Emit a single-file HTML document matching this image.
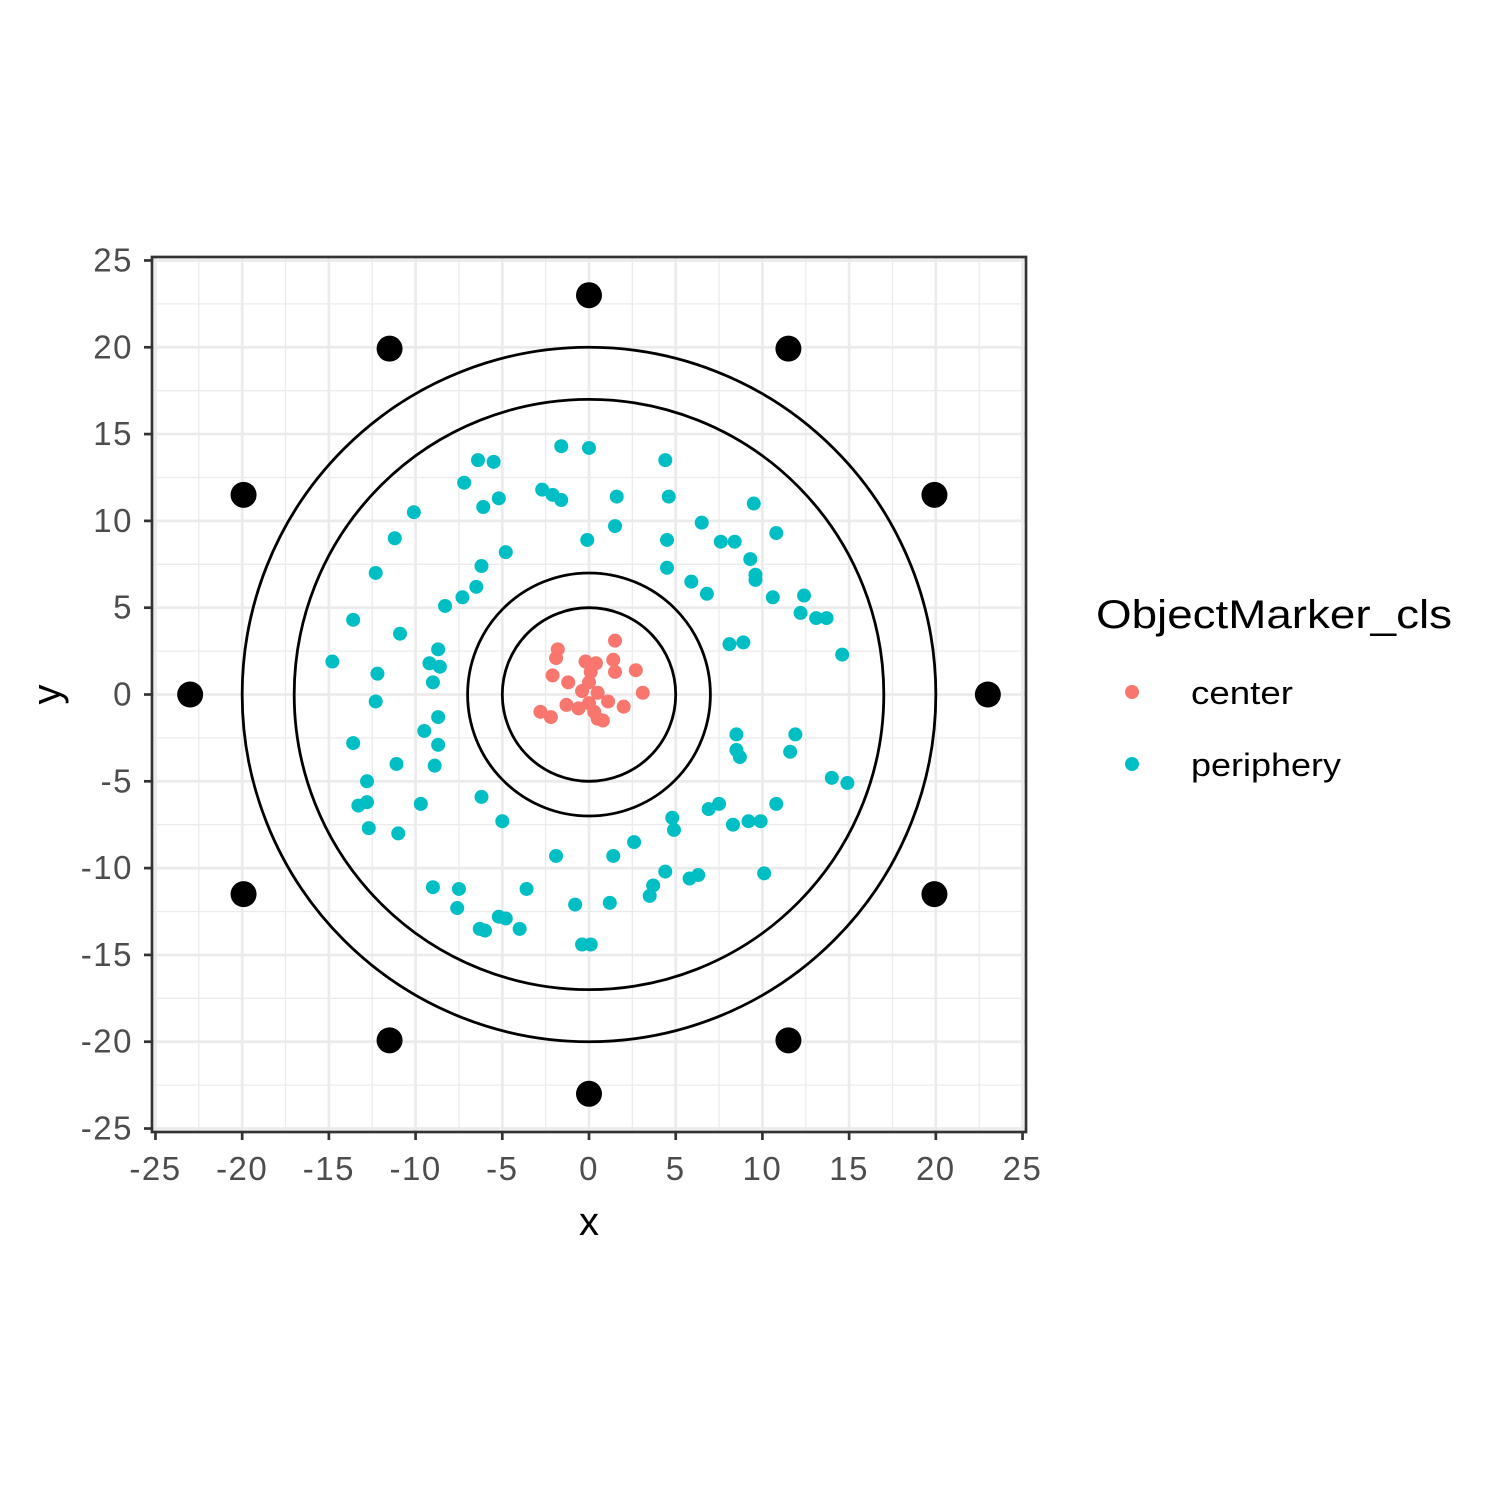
<!DOCTYPE html>
<html><head><meta charset="utf-8">
<style>
html,body{margin:0;padding:0;background:#fff;}
svg{display:block;font-family:"Liberation Sans",Arial,sans-serif;}
</style></head>
<body>
<svg id="chart" width="1500" height="1500" viewBox="0 0 1500 1500" xmlns="http://www.w3.org/2000/svg">
<rect width="1500" height="1500" fill="#fff"/>
</svg>
<script>
const xTicks=[-25,-20,-15,-10,-5,0,5,10,15,20,25];
const yTicks=[-25,-20,-15,-10,-5,0,5,10,15,20,25];
const ringRadii=[5,7,17,20];
const anchorX=[0,11.5,19.92,23,19.92,11.5,0,-11.5,-19.92,-23,-19.92,-11.5];
const anchorY=[23,19.92,11.5,0,-11.5,-19.92,-23,-19.92,-11.5,0,11.5,19.92];
const centerX=[-1.8,-1.9,1.5,-0.2,0.4,1.4,-2.1,2.7,0.1,1.5,-1.2,0,-0.4,0.5,3.1,1.1,-1.3,-0.6,0.3,-2.8,-2.2,2.0,0.5,0.8,0];
const centerY=[2.6,2.1,3.1,1.9,1.8,2.0,1.1,1.4,1.3,1.3,0.7,0.7,0.2,0.1,0.1,-0.4,-0.6,-0.8,-1.0,-1.0,-1.3,-0.7,-1.4,-1.5,-0.5];
const periX=[-1.6,0.0,-6.4,-5.5,4.4,-7.2,-2.7,-2.1,-1.6,1.6,4.6,-5.2,-6.1,9.5,-10.1,1.5,6.5,10.8,-11.2,-0.1,4.5,7.6,8.4,-4.8,9.3,-6.2,4.5,9.6,-12.3,9.6,5.9,6.8,10.6,12.4,-6.5,-7.3,-8.3,12.2,13.1,13.7,-13.6,-10.9,-8.7,8.1,8.9,14.6,-14.8,-9.2,-8.6,-12.2,-9.0,-12.3,-8.7,-9.5,8.5,11.9,-13.6,-8.7,8.5,8.7,11.6,-11.1,-8.9,-12.8,14.0,14.9,-13.3,-12.8,-6.2,-9.7,7.5,6.9,10.8,4.8,-5.0,-12.7,-11.0,4.9,8.3,9.2,9.9,2.6,-1.9,1.4,4.4,5.8,6.3,10.1,-9.0,-7.5,-3.6,3.7,3.5,-0.8,1.2,-7.6,-5.2,-4.8,-6.3,-6.0,-4.0,-0.4,0.1];
const periY=[14.3,14.2,13.5,13.4,13.5,12.2,11.8,11.5,11.2,11.4,11.4,11.3,10.8,11.0,10.5,9.7,9.9,9.3,9.0,8.9,8.9,8.8,8.8,8.2,7.8,7.4,7.3,6.9,7.0,6.6,6.5,5.8,5.6,5.7,6.2,5.6,5.1,4.7,4.4,4.4,4.3,3.5,2.6,2.9,3.0,2.3,1.9,1.8,1.6,1.2,0.7,-0.4,-1.3,-2.1,-2.3,-2.3,-2.8,-2.9,-3.2,-3.6,-3.3,-4.0,-4.1,-5.0,-4.8,-5.1,-6.4,-6.2,-5.9,-6.3,-6.3,-6.6,-6.3,-7.1,-7.3,-7.7,-8.0,-7.8,-7.5,-7.3,-7.3,-8.5,-9.3,-9.3,-10.2,-10.6,-10.4,-10.3,-11.1,-11.2,-11.2,-11.0,-11.6,-12.1,-12.0,-12.3,-12.8,-12.9,-13.5,-13.6,-13.5,-14.4,-14.4];

const NS="http://www.w3.org/2000/svg";
const svg=document.getElementById('chart');
const L=152,R=1026,T=257,B=1132;
const xmin=-25.2,xmax=25.2,ymin=-25.2,ymax=25.2;
const sx=v=>L+(v-xmin)/(xmax-xmin)*(R-L);
const sy=v=>B-(v-ymin)/(ymax-ymin)*(B-T);
function mk(tag,attrs,parent){const e=document.createElementNS(NS,tag);for(const k in attrs)e.setAttribute(k,attrs[k]);(parent||svg).appendChild(e);return e;}

const grid=mk('g',{});


for(let i=0;i<xTicks.length-1;i++){const m=(xTicks[i]+xTicks[i+1])/2;
  mk('line',{x1:sx(m),x2:sx(m),y1:T,y2:B,stroke:'#ebebeb','stroke-width':1.3},grid);
  mk('line',{y1:sy(m),y2:sy(m),x1:L,x2:R,stroke:'#ebebeb','stroke-width':1.3},grid);}
xTicks.forEach(v=>mk('line',{x1:sx(v),x2:sx(v),y1:T,y2:B,stroke:'#ebebeb','stroke-width':2.7},grid));
yTicks.forEach(v=>mk('line',{y1:sy(v),y2:sy(v),x1:L,x2:R,stroke:'#ebebeb','stroke-width':2.7},grid));

const rings=mk('g',{});


ringRadii.forEach(r=>{const c=mk('ellipse',{cx:sx(0),cy:sy(0),rx:sx(r)-sx(0),ry:sy(0)-sy(r),fill:'none',stroke:'#000','stroke-width':2.8},rings);
  
  });

const anch=mk('g',{});


anchorX.forEach((x,i)=>{const c=mk('circle',{cx:sx(x),cy:sy(anchorY[i]),r:13,fill:'#000'},anch);
  
  });

const per=mk('g',{});


periX.forEach((x,i)=>{const c=mk('circle',{cx:sx(x),cy:sy(periY[i]),r:7,fill:'#00BFC4'},per);
  
  });
const cen=mk('g',{});


centerX.forEach((x,i)=>{const c=mk('circle',{cx:sx(x),cy:sy(centerY[i]),r:7,fill:'#F8766D'},cen);
  
  });

const border=mk('rect',{x:L,y:T,width:R-L,height:B-T,fill:'none',stroke:'#333','stroke-width':2.7});



const xa=mk('g',{});


xTicks.forEach(v=>{mk('line',{x1:sx(v),x2:sx(v),y1:B,y2:B+8,stroke:'#333','stroke-width':2.7},xa);
  const t=mk('text',{x:sx(v),y:B+48,'text-anchor':'middle','font-size':33,'letter-spacing':1.5,fill:'#4d4d4d'},xa);t.textContent=v;
  
  });
const ya=mk('g',{});


yTicks.forEach(v=>{mk('line',{x1:L-8,x2:L,y1:sy(v),y2:sy(v),stroke:'#333','stroke-width':2.7},ya);
  const t=mk('text',{x:L-19,y:sy(v)+11,'text-anchor':'end','font-size':33,'letter-spacing':1.5,fill:'#4d4d4d'},ya);t.textContent=v;
  
  });
const xt=mk('text',{x:(L+R)/2,y:1235,'text-anchor':'middle','font-size':40,fill:'#000'});xt.textContent='x';


const yt=mk('text',{x:0,y:0,'text-anchor':'middle','font-size':40,fill:'#000',transform:'translate(60,'+((T+B)/2)+') rotate(-90)'});yt.textContent='y';



const lg=mk('g',{});


const lt=mk('text',{x:1096,y:628,'font-size':40,textLength:356,lengthAdjust:'spacingAndGlyphs',fill:'#000'},lg);lt.textContent='ObjectMarker_cls';


[['center','#F8766D',692,102],['periphery','#00BFC4',764,150]].forEach(([n,c,y,w])=>{
  const e=mk('g',{},lg);
  
  
  mk('circle',{cx:1132,cy:y,r:7,fill:c},e);
  const t=mk('text',{x:1191,y:y+12,'font-size':32,textLength:w,lengthAdjust:'spacingAndGlyphs',fill:'#000'},e);t.textContent=n;});
</script>
</body></html>
